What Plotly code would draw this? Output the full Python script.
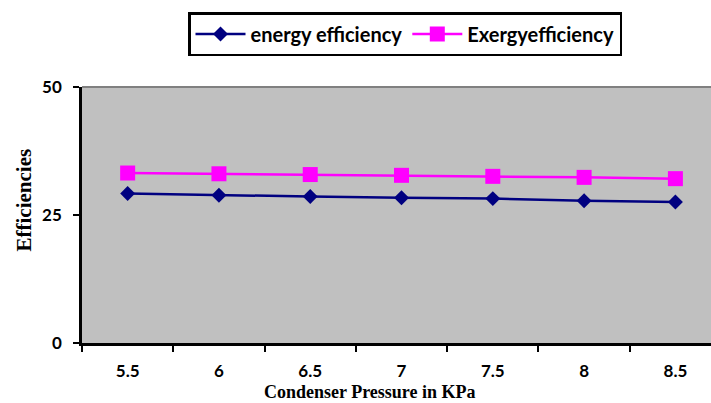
import plotly.graph_objects as go

pressure = ["5.5", "6", "6.5", "7", "7.5", "8", "8.5"]
energy_eff = [29.2, 28.85, 28.6, 28.35, 28.2, 27.8, 27.55]
exergy_eff = [33.2, 33.05, 32.9, 32.75, 32.55, 32.35, 32.1]

W, H = 711, 403
L, R, T, B = 82, 0, 87, 60
PW, PH = W - L - R, H - T - B

fig = go.Figure()
fig.add_trace(go.Scatter(
    x=pressure, y=energy_eff, name="energy efficiency", mode="lines+markers",
    line=dict(color="#000080", width=2.5),
    marker=dict(symbol="diamond", size=11.5, color="#000080"),
))
fig.add_trace(go.Scatter(
    x=pressure, y=exergy_eff, name="Exergyefficiency", mode="lines+markers",
    line=dict(color="#FF00FF", width=2.5),
    marker=dict(symbol="square", size=15, color="#FF00FF"),
))

tickfont = dict(family="Lato", size=17, color="black", weight="bold")

fig.update_layout(
    width=W, height=H,
    margin=dict(l=L, r=R, t=T, b=B, pad=0),
    paper_bgcolor="white",
    plot_bgcolor="#C0C0C0",
    showlegend=True,
    legend=dict(
        orientation="h", x=(405 - L) / PW, xanchor="center", y=(H - B - 12) / PH, yanchor="top",
        bordercolor="black", borderwidth=2.5, bgcolor="white",
        font=dict(family="Lato", size=20, color="black", weight="bold"),
        itemwidth=50, tracegroupgap=0,
    ),
    xaxis=dict(
        type="category", range=[-0.5, 6.39], tickson="boundaries",
        ticks="outside", ticklen=6, tickwidth=2, tickcolor="black",
        showline=True, linecolor="black", linewidth=2.5,
        showgrid=False, zeroline=False, tickfont=tickfont,
        ticklabelstandoff=11,
    ),
    yaxis=dict(
        range=[0, 50], tickvals=[0, 25, 50],
        ticks="outside", ticklen=6, tickwidth=2, tickcolor="black",
        showline=True, linecolor="black", linewidth=2.5,
        showgrid=False, zeroline=False, tickfont=tickfont,
        ticklabelstandoff=8,
    ),
    shapes=[dict(type="line", xref="paper", yref="paper", x0=0, x1=1, y0=1, y1=1,
                 line=dict(color="#808080", width=2))],
    annotations=[
        dict(text="Condenser Pressure in KPa", xref="paper", yref="paper",
             x=(370 - L) / PW, y=(H - B - 391.5) / PH,
             xanchor="center", yanchor="middle", showarrow=False,
             font=dict(family="Liberation Serif", size=18, color="black", weight="bold")),
        dict(text="Efficiencies", xref="paper", yref="paper",
             x=(23.5 - L) / PW, y=(H - B - 200) / PH,
             xanchor="center", yanchor="middle", textangle=-90, showarrow=False,
             font=dict(family="Liberation Serif", size=21, color="black", weight="bold")),
    ],
)

fig.write_html("out.html")
